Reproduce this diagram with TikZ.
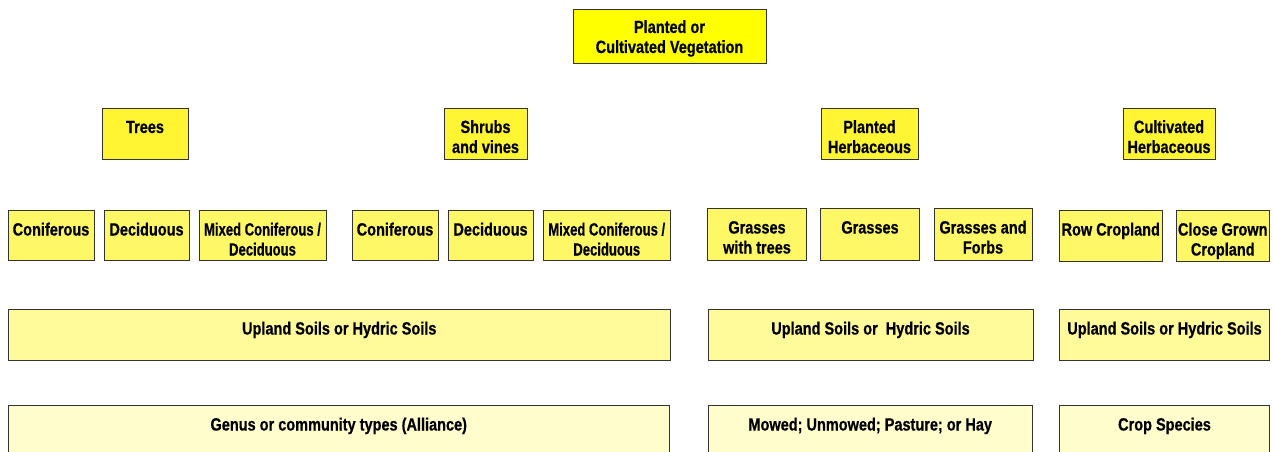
\documentclass[tikz,border=0pt]{standalone}
\usepackage{graphicx}
\usepackage{fontspec}
\setmainfont{Liberation Sans}[FakeStretch=0.82, BoldFeatures={FakeStretch=0.82, FakeBold=0.6}]
\newcommand{\boxtext}[1]{\begin{tabular}[t]{@{}c@{}}#1\end{tabular}}
\newcommand{\narrowline}[1]{\scalebox{0.9}[1]{#1}}
\definecolor{cTop}{HTML}{FFFF00}
\definecolor{cTwo}{HTML}{FFF533}
\definecolor{cThree}{HTML}{FFF866}
\definecolor{cFour}{HTML}{FFFA9A}
\definecolor{cFive}{HTML}{FFFDCC}
\tikzset{
  cell/.style={draw=black!80, line width=0.9pt, inner sep=0pt, outer sep=0pt, anchor=north west},
  lbl/.style={inner sep=0pt, anchor=base, font=\fontsize{17.7}{20}\selectfont\bfseries}
}
% \bx{name}{x1}{y1}{x2}{y2}{fill}{text}{baseline offset}
\newcommand{\bx}[8]{%
  \node[cell, fill=#6, minimum width={(#4-#2)*1pt}, minimum height={(#5-#3)*1pt}] (#1) at (#2,#3) {};
  \node[lbl] (#1-t) at ([yshift=-#8pt]#1.north) {\boxtext{#7}};
}
\begin{document}
\begin{tikzpicture}[x=1pt,y=-1pt]
\useasboundingbox (0,0) rectangle (1274,452);
\clip (0,0) rectangle (1274,452);
% level 1
\bx{top}{573}{9}{766}{63}{cTop}{Planted or\\Cultivated Vegetation}{24}
% level 2
\bx{trees}{102}{108}{188}{159}{cTwo}{Trees}{25}
\bx{shrubs}{444}{108}{527}{159}{cTwo}{Shrubs\\and vines}{25}
\bx{plh}{821}{108}{918}{159}{cTwo}{Planted\\Herbaceous}{25}
\bx{cuh}{1123}{108}{1215}{159}{cTwo}{Cultivated\\Herbaceous}{25}
% level 3
\bx{tcon}{8}{210.5}{94}{260}{cThree}{Coniferous}{25}
\bx{tdec}{104}{210.5}{189}{260}{cThree}{Deciduous}{25}
\bx{tmix}{199}{210.5}{326}{260}{cThree}{\narrowline{Mixed Coniferous /}\\\narrowline{Deciduous}}{25}
\bx{scon}{352}{210.5}{438}{260}{cThree}{Coniferous}{25}
\bx{sdec}{448}{210.5}{533}{260}{cThree}{Deciduous}{25}
\bx{smix}{543}{210.5}{670.5}{260}{cThree}{\narrowline{Mixed Coniferous /}\\\narrowline{Deciduous}}{25}
\bx{gwt}{707.5}{208.5}{806.5}{260}{cThree}{Grasses\\with trees}{25}
\bx{gra}{820.5}{208.5}{919.5}{260}{cThree}{Grasses}{25}
\bx{gaf}{934}{208.5}{1032}{260}{cThree}{Grasses and\\Forbs}{25}
\bx{rowc}{1059}{210.5}{1162.5}{261.5}{cThree}{Row Cropland}{25}
\bx{clgc}{1176}{210.5}{1269.5}{261.5}{cThree}{Close Grown\\Cropland}{25}
% level 4
\bx{soilA}{8}{309.5}{670.5}{360}{cFour}{Upland Soils or Hydric Soils}{25}
\bx{soilB}{708}{309.5}{1033}{360}{cFour}{Upland Soils or~ Hydric Soils}{25}
\bx{soilC}{1059.5}{309.5}{1269.5}{360}{cFour}{Upland Soils or Hydric Soils}{25}
% level 5
\bx{genA}{8}{405.5}{669.5}{470}{cFive}{Genus or community types (Alliance)}{25}
\bx{genB}{708}{405.5}{1032.5}{470}{cFive}{Mowed; Unmowed; Pasture; or Hay}{25}
\bx{genC}{1059.5}{405.5}{1269.5}{470}{cFive}{Crop Species}{25}
\end{tikzpicture}
\end{document}
